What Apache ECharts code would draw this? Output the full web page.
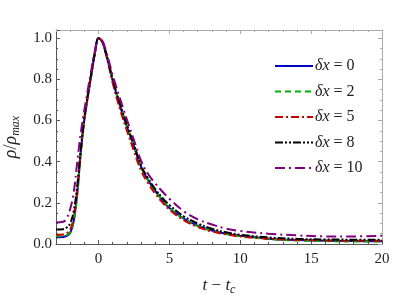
<!DOCTYPE html>
<html><head><meta charset="utf-8">
<script src="https://cdn.jsdelivr.net/npm/echarts@6/dist/echarts.min.js"></script>
<style>html,body{margin:0;padding:0;background:#fff}#c{width:415px;height:305px}</style>
</head><body><div id="c"></div>
<script>
const t = [-3,-2.5,-2.25,-2,-1.75,-1.5,-1.25,-1,-0.75,-0.5,-0.25,0,0.25,0.5,0.75,1,1.5,2,2.5,3,3.5,4,4.5,5,6,7,8,9,10,12,14,16,18,20];
const dx0  = [0.033,0.034,0.039,0.053,0.112,0.245,0.45,0.605,0.72,0.825,0.93,1.0,0.985,0.932,0.865,0.795,0.675,0.57,0.475,0.375,0.31,0.258,0.213,0.175,0.124,0.089,0.066,0.05,0.04,0.026,0.019,0.016,0.014,0.013];
const dx2  = [0.038,0.039,0.043,0.057,0.112,0.24,0.445,0.6,0.715,0.82,0.925,1.0,0.985,0.933,0.866,0.797,0.678,0.572,0.476,0.376,0.311,0.258,0.213,0.174,0.122,0.087,0.064,0.048,0.038,0.024,0.017,0.014,0.012,0.012];
const dx5  = [0.045,0.046,0.052,0.07,0.13,0.26,0.45,0.61,0.72,0.83,0.93,1.0,0.983,0.928,0.858,0.783,0.658,0.552,0.452,0.357,0.295,0.244,0.203,0.167,0.116,0.083,0.061,0.047,0.037,0.025,0.02,0.017,0.016,0.016];
const dx8  = [0.07,0.072,0.08,0.1,0.16,0.285,0.46,0.615,0.728,0.835,0.932,1.0,0.986,0.936,0.87,0.8,0.685,0.58,0.482,0.382,0.318,0.267,0.225,0.19,0.135,0.1,0.074,0.057,0.045,0.032,0.025,0.022,0.021,0.02];
const dx10 = [0.105,0.108,0.124,0.17,0.25,0.4,0.54,0.65,0.752,0.85,0.94,1.0,0.99,0.945,0.885,0.82,0.71,0.605,0.505,0.405,0.34,0.295,0.255,0.22,0.16,0.12,0.095,0.075,0.063,0.05,0.042,0.037,0.037,0.04];
const seriesNames = ['δx = 0','δx = 2','δx = 5','δx = 8','δx = 10'];
const seriesData = [dx0, dx2, dx5, dx8, dx10];
const xMajor = [0, 5, 10, 15, 20];
const colors = ['#0000cc','#00b000','#cc0000','#000000','#800080'];
const dashes = ['solid',[6,4],[8,3,2,3],[8,2,2,2,2,2],[10,4,2,4]];

const serif = 'Liberation Serif';
const chart = echarts.init(document.getElementById('c'), null, {renderer:'canvas'});
const series = seriesData.map((arr, i) => ({
  name: seriesNames[i], type: 'line', data: t.map((x, j) => [x, arr[j]]),
  showSymbol: false, symbol: 'none', smooth: 0.4,
  lineStyle: {color: colors[i], width: 2, type: dashes[i]},
  itemStyle: {color: colors[i]}, z: 2 + i
}));
const dark = '#555', light = '#aaa';
function xAx(pos, major, color, labels) {
  const a = {type: 'value', min: -3, max: 20, position: pos, splitLine: {show: false},
    axisLine: {show: major, onZero: false, lineStyle: {color: color}}};
  if (major) {
    a.axisTick = {show: true, inside: true, length: 4, customValues: xMajor, lineStyle: {color: color}};
    a.axisLabel = labels ? {show: true, customValues: xMajor, fontFamily: serif, fontSize: 15, color: '#222', margin: 8} : {show: false};
  } else {
    a.interval = 1;
    a.axisTick = {show: true, inside: true, length: 2, lineStyle: {color: color}};
    a.axisLabel = {show: false};
  }
  return a;
}
const xAxes = [xAx('bottom', true, dark, true), xAx('bottom', false, dark, false), xAx('top', true, light, false), xAx('top', false, light, false)];
xAxes[0].name = '{i|t} − {i|t}{s|c}';
xAxes[0].nameLocation = 'middle';
xAxes[0].nameGap = 32;
xAxes[0].nameTextStyle = {fontFamily: serif, fontSize: 17, color: '#222',
  rich: {i: {fontStyle: 'italic', fontFamily: serif, fontSize: 17, color: '#222'}, s: {fontStyle: 'italic', fontFamily: serif, fontSize: 12, color: '#222', padding: [8,0,0,0]}}};

chart.setOption({
  animation: false,
  grid: {left: 56, right: 33, top: 30, bottom: 61, outerBoundsMode: 'none', containLabel: false},
  legend: {
    orient: 'vertical', left: 269, top: 53, itemWidth: 38, itemHeight: 14, itemGap: 9.5,
    data: seriesNames,
    itemStyle: {opacity: 0},
    textStyle: {fontFamily: serif, fontSize: 16, color: '#222', padding: [0,0,0,-3],
      rich: {i: {fontFamily: serif, fontStyle: 'italic', fontSize: 16, color: '#222'}, n: {fontFamily: serif, fontSize: 16, color: '#222'}}},
    formatter: n => '{i|δx}{n| = ' + n.split('= ')[1] + '}'
  },
  xAxis: xAxes,
  yAxis: [
    {type: 'value', min: 0, max: 1.04, interval: 0.2, position: 'left',
      axisLine: {show: true, onZero: false, lineStyle: {color: dark}},
      axisTick: {show: true, inside: true, length: 4, lineStyle: {color: dark}},
      minorTick: {show: true, splitNumber: 4, length: 2, lineStyle: {color: dark}},
      splitLine: {show: false},
      axisLabel: {fontFamily: serif, fontSize: 15, color: '#222', margin: 4,
        formatter: v => (Math.abs(v * 5 - Math.round(v * 5)) < 1e-6 ? v.toFixed(1) : '')},
      name: '{i|ρ}{n|/}{i|ρ}{s|max}', nameLocation: 'middle', nameGap: 34, nameRotate: 90,
      nameTextStyle: {fontFamily: serif, fontSize: 17, color: '#222',
        rich: {i: {fontStyle: 'italic', fontFamily: serif, fontSize: 18, color: '#222'}, n: {fontFamily: serif, fontSize: 18, color: '#222'}, s: {fontStyle: 'italic', fontFamily: serif, fontSize: 12, color: '#222', padding: [10,0,0,0]}}}
    },
    {type: 'value', min: 0, max: 1.04, interval: 0.2, position: 'right',
      axisLine: {show: true, onZero: false, lineStyle: {color: light}},
      axisTick: {show: true, inside: true, length: 4, lineStyle: {color: light}},
      minorTick: {show: true, splitNumber: 4, length: 2, lineStyle: {color: light}},
      axisLabel: {show: false}, splitLine: {show: false}}
  ],
  series: series
});
</script></body></html>
